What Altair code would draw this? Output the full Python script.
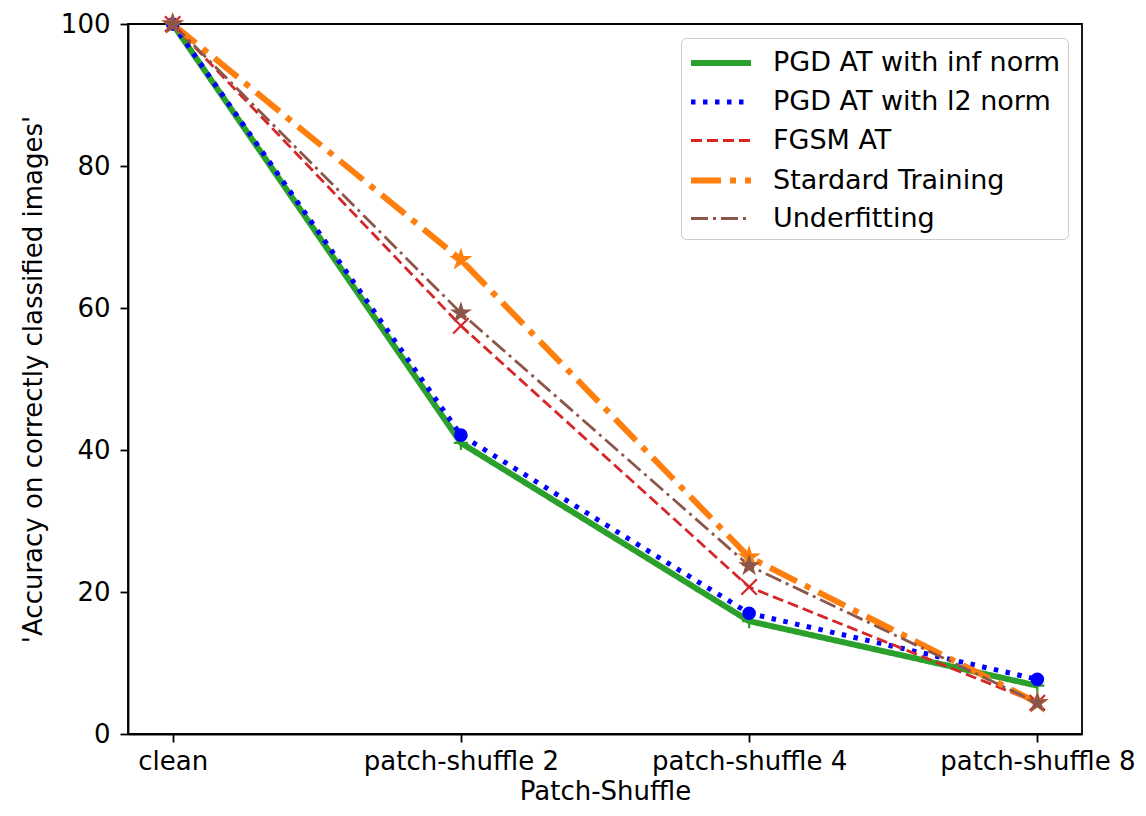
import altair as alt
import pandas as pd

categories = ["clean", "patch-shuffle 2", "patch-shuffle 4", "patch-shuffle 8"]
series_names = ["PGD AT with inf norm", "PGD AT with l2 norm", "FGSM AT",
                "Stardard Training", "Underfitting"]
pgd_inf = [100, 41.0, 15.9, 6.8]
pgd_l2 = [100, 42.1, 17.0, 7.7]
fgsm = [100, 57.5, 20.7, 4.4]
standard = [100, 66.8, 24.9, 4.4]
underfit = [100, 59.3, 23.7, 4.4]

colors = ["#2ca02c", "#0000ff", "#d62728", "#ff7f0e", "#8c564b"]
dashes = [[1, 0], [4.5, 7.5], [11, 5], [30, 9, 6, 9], [17, 5, 3, 5]]
widths = [6, 5, 2.8, 6, 2.8]
plus = "M-1,0L1,0M0,-1L0,1"
cross = "M-1,-1L1,1M-1,1L1,-1"
star = ("M0,-1L0.2245,-0.309L0.951,-0.309L0.3633,0.118L0.5878,0.809"
        "L0,0.382L-0.5878,0.809L-0.3633,0.118L-0.951,-0.309L-0.2245,-0.309Z")
shapes = [plus, "circle", cross, star, star]
sizes = [200, 130, 240, 300, 260]
filled = [False, True, False, True, True]

rows = []
for name, vals in zip(series_names, [pgd_inf, pgd_l2, fgsm, standard, underfit]):
    for i, v in enumerate(vals):
        rows.append({"series": name, "idx": i, "value": v})
df = pd.DataFrame(rows)

label_expr = ("datum.value == 0 ? 'clean' : datum.value == 1 ? 'patch-shuffle 2' : "
              "datum.value == 2 ? 'patch-shuffle 4' : 'patch-shuffle 8'")

x = alt.X("idx:Q", scale=alt.Scale(domain=[-0.155, 3.155], nice=False, zero=False),
          axis=alt.Axis(values=[0, 1, 2, 3], labelExpr=label_expr, title="Patch-Shuffle",
                        grid=False, tickSize=8, labelPadding=6, titlePadding=4,
                        labelLimit=500, labelOverlap=False))
y = alt.Y("value:Q", scale=alt.Scale(domain=[0, 100], nice=False),
          axis=alt.Axis(values=[0, 20, 40, 60, 80, 100], grid=False, tickSize=8,
                        labelPadding=10,
                        title="'Accuracy on correctly classified images'", titlePadding=14))

lines = alt.Chart(df).mark_line(strokeCap="butt").encode(
    x=x, y=y,
    color=alt.Color("series:N", scale=alt.Scale(domain=series_names, range=colors),
                    legend=alt.Legend(title=None, orient="top-right")),
    strokeDash=alt.StrokeDash("series:N", scale=alt.Scale(domain=series_names, range=dashes)),
    strokeWidth=alt.StrokeWidth("series:N",
                                scale=alt.Scale(type="ordinal", domain=series_names, range=widths)),
    order="idx:Q",
)

point_layers = []
for name, col, shp, sz, fl in zip(series_names, colors, shapes, sizes, filled):
    point_layers.append(
        alt.Chart(df).transform_filter(alt.datum.series == name).mark_point(
            shape=shp, size=sz, filled=fl, color=col, fill=col if fl else "transparent",
            stroke=col, strokeWidth=2.2, opacity=1,
        ).encode(x=x, y=y)
    )

chart = alt.layer(lines, *point_layers).properties(
    width=954, height=710,
    autosize=alt.AutoSizeParams(type="none"),
    padding={"left": 128, "top": 24, "right": 64, "bottom": 82},
).configure(
    font="DejaVu Sans",
).configure_view(
    stroke="black", strokeWidth=1.8,
).configure_axis(
    domainColor="black", domainWidth=1.8, tickColor="black", tickWidth=1.8,
    labelColor="black", labelFontSize=26, titleFontSize=26, titleColor="black",
    titleFontWeight="normal", labelFont="DejaVu Sans", titleFont="DejaVu Sans",
).configure_legend(
    labelFontSize=27, labelColor="black", labelFont="DejaVu Sans",
    symbolType="M-1,0L3,0", symbolSize=900, symbolOffset=0,
    rowPadding=8.5, labelOffset=49, padding=7,
    strokeColor="#cccccc", cornerRadius=5, fillColor="white",
    offset=14, labelLimit=500,
)

chart.save("out.html", embed_options={"renderer": "svg", "actions": False})
